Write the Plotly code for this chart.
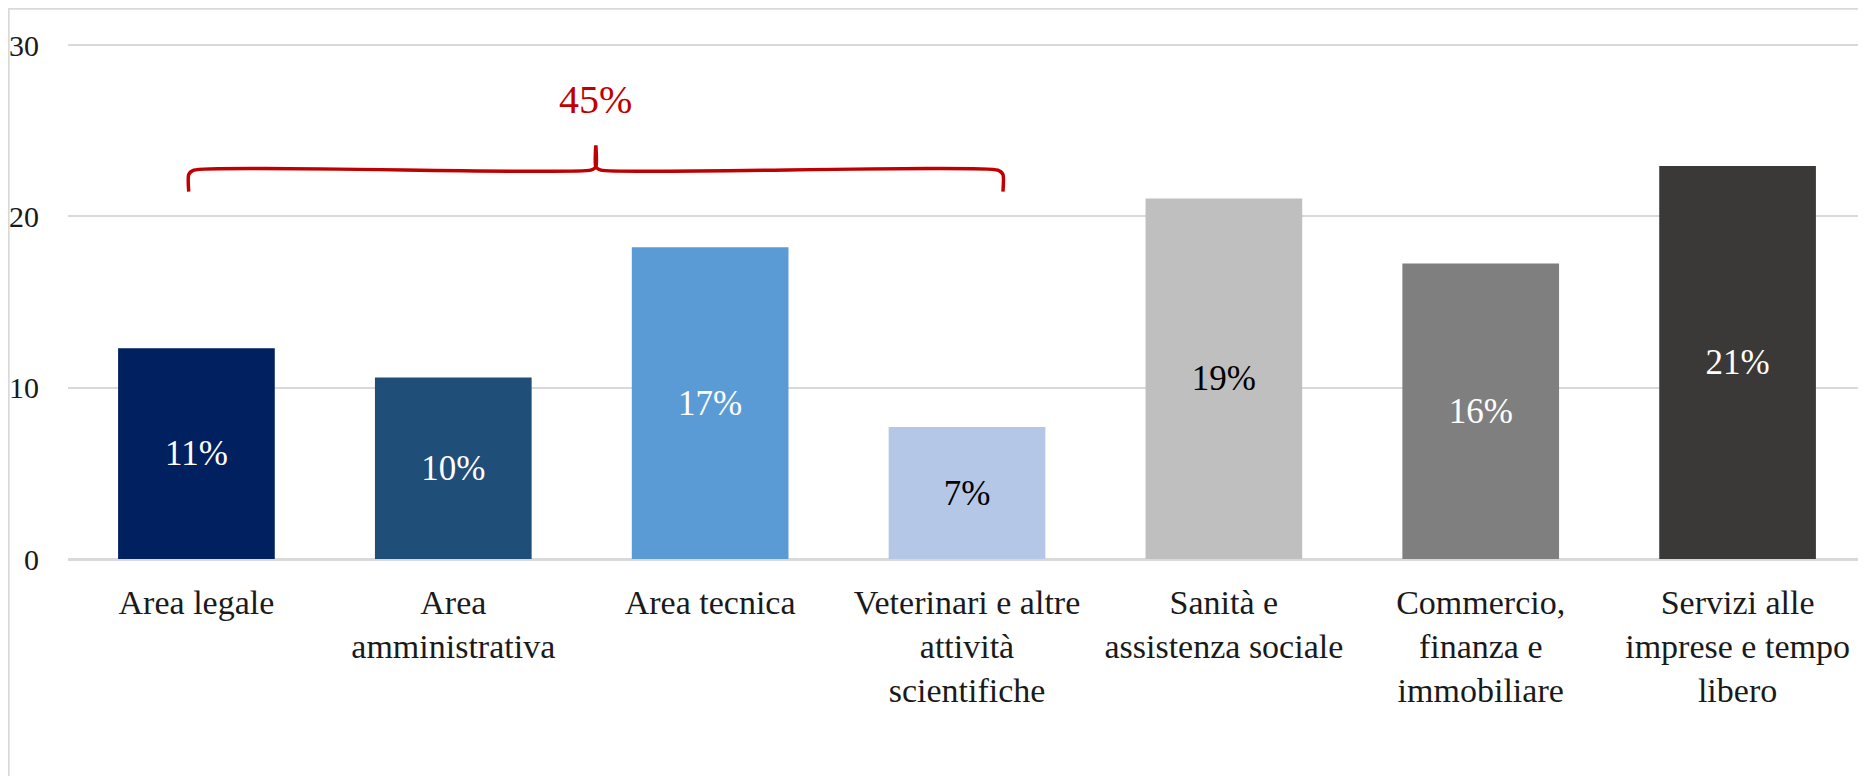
import plotly.graph_objects as go

categories = [
    "Area legale",
    "Area<br>amministrativa",
    "Area tecnica",
    "Veterinari e altre<br>attività<br>scientifiche",
    "Sanità e<br>assistenza sociale",
    "Commercio,<br>finanza e<br>immobiliare",
    "Servizi alle<br>imprese e tempo<br>libero",
]
values = [12.3, 10.6, 18.2, 7.7, 21.05, 17.25, 22.95]
bar_labels = ["11%", "10%", "17%", "7%", "19%", "16%", "21%"]
bar_colors = ["#002060", "#1F4E79", "#5B9BD5", "#B4C7E7", "#BFBFBF", "#7F7F7F", "#3B3838"]
label_colors = ["white", "white", "white", "black", "black", "white", "white"]
y_ticks = [0, 10, 20, 30]

group_first, group_last = 0, 3
group_label = "45%"
red = "#C00000"
serif = "Liberation Serif"

xs = list(range(len(categories)))

fig = go.Figure()
fig.add_trace(go.Bar(
    x=xs, y=values,
    marker=dict(color=bar_colors, line=dict(width=0)),
    text=bar_labels, textposition="inside", insidetextanchor="middle",
    textfont=dict(family=serif, size=35, color=label_colors),
    width=0.61, hoverinfo="skip",
))

# curly brace over the first group of bars
x0, x1 = group_first - 0.03, group_last + 0.14
xc = (x0 + x1) / 2
y_end, y_line, y_peak = 21.45, 22.7, 24.15
brace_x = [x0, x0, x0 + 0.02, xc - 0.02, xc, xc, xc, xc + 0.02, x1 - 0.02, x1, x1]
brace_y = [y_end, y_line - 0.25, y_line, y_line, y_line + 0.2, y_peak, y_line + 0.2, y_line, y_line, y_line - 0.25, y_end]
fig.add_trace(go.Scatter(
    x=brace_x, y=brace_y, mode="lines",
    line=dict(color=red, width=3.5, shape="spline", smoothing=0.6),
    hoverinfo="skip",
))
fig.add_annotation(
    x=xc, y=26.8, text=group_label, showarrow=False,
    font=dict(family=serif, size=40, color=red),
)

# light outer frame
fig.add_shape(
    type="rect", xref="paper", yref="paper",
    x0=-0.033, x1=1.05, y0=-0.5, y1=1.06,
    line=dict(color="#D9D9D9", width=2), layer="below",
)

fig.update_layout(
    width=1858, height=768, autosize=False,
    margin=dict(l=60, r=0, t=32, b=217),
    plot_bgcolor="white", paper_bgcolor="white",
    showlegend=False, bargap=0.39,
    font=dict(family=serif, size=34, color="#1a1a1a"),
)
fig.update_xaxes(
    range=[-0.5, len(categories) - 0.5], automargin=False,
    tickvals=xs, ticktext=categories, tickangle=0,
    showgrid=False, zeroline=False, showline=False, ticks="",
    ticklabelstandoff=20,
    tickfont=dict(family=serif, size=34, color="#1a1a1a"),
)
fig.update_yaxes(
    range=[0, 30.3], tickvals=y_ticks, automargin=False,
    showgrid=True, gridcolor="#D9D9D9", gridwidth=1.5,
    zeroline=True, zerolinecolor="#D9D9D9", zerolinewidth=2.5,
    showline=False, ticks="", ticklabelstandoff=28,
    tickfont=dict(family=serif, size=30, color="#1a1a1a"),
)

fig.write_html("out.html")
